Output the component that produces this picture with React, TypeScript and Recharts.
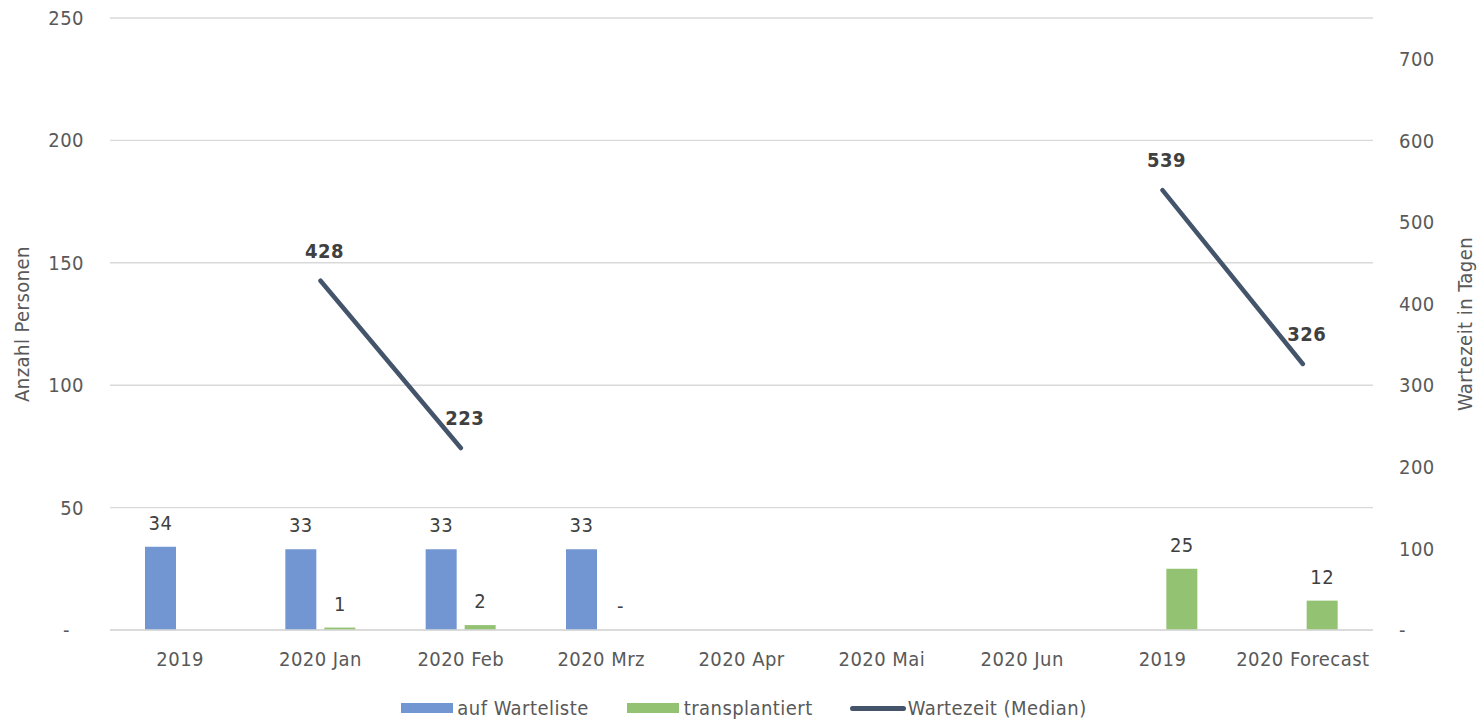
import React from "react";
import {
  ComposedChart,
  Bar,
  Line,
  XAxis,
  YAxis,
  CartesianGrid,
  LabelList,
  Legend,
} from "recharts";

// ── Data ───────────────────────────────────────────────────────────────────
const categories = ["2019", "2020 Jan", "2020 Feb", "2020 Mrz", "2020 Apr", "2020 Mai", "2020 Jun", "2019", "2020 Forecast"];
const aufWarteliste: (number | null)[] = [34, 33, 33, 33, null, null, null, null, null];
const transplantiert: (number | null)[] = [null, 1, 2, 0, null, null, null, 25, 12];
const wartezeit: (number | null)[] = [null, 428, 223, null, null, null, null, 539, 326];

const leftTicks = [0, 50, 100, 150, 200, 250];
const rightTicks = [0, 100, 200, 300, 400, 500, 600, 700];

const FONT = "'DejaVu Sans Condensed', 'Liberation Sans', sans-serif";
const LS = 0.45; // letter spacing, closer to the original Tahoma widths
const BLUE = "#7296d1";
const GREEN = "#93c273";
const NAVY = "#44546a";
const GRID = "#d9d9d9";
const TEXT = "#595959";
const LABEL = "#404040";

const data = categories.map((name, i) => ({
  name,
  warteliste: aufWarteliste[i],
  transplantiert: transplantiert[i],
  wartezeit: wartezeit[i],
}));

// ── Renderers ──────────────────────────────────────────────────────────────

const fmtZero = (v: number) => (v === 0 ? "-" : String(v));

const LeftTick = (props: any) => {
  const { x, y, payload } = props;
  const isZero = payload.value === 0;
  return (
    <text x={isZero ? x - 14 : x} y={y} dy="0.35em" textAnchor="end" fill={TEXT} fontSize={20}
      fontFamily={FONT} letterSpacing={LS}>
      {fmtZero(payload.value)}
    </text>
  );
};

const BarLabel = (props: any) => {
  const { x, y, width, value } = props;
  if (value === null || value === undefined) return null;
  return (
    <text x={x + width / 2} y={y - 17} textAnchor="middle" fill={LABEL} fontSize={20}
      fontFamily={FONT} letterSpacing={LS}>
      {fmtZero(value)}
    </text>
  );
};

const LineLabel = (props: any) => {
  const { x, y, value } = props;
  if (value === null || value === undefined) return null;
  return (
    <text x={x + 4} y={y - 23} textAnchor="middle" fill={LABEL} fontSize={20} fontWeight="bold"
      fontFamily={FONT} letterSpacing={LS}>
      {value}
    </text>
  );
};

const AxisTitle = (text: string, dx: number) => (props: any) => {
  const { x, y, height } = props.viewBox;
  const cx = x + dx;
  const cy = y + height / 2;
  return (
    <text x={cx} y={cy} transform={`rotate(-90 ${cx} ${cy})`} textAnchor="middle" dominantBaseline="central"
      fill={TEXT} fontSize={20} fontFamily={FONT} letterSpacing={LS}>
      {text}
    </text>
  );
};

const LegendContent = () => (
  <div style={{ height: 40, display: "flex", justifyContent: "center", alignItems: "flex-end",
    fontFamily: FONT, fontSize: 20, letterSpacing: LS, color: TEXT, paddingLeft: 8, boxSizing: "border-box" }}>
    <div style={{ display: "flex", alignItems: "center", height: 22, marginBottom: -4 }}>
      <span style={{ width: 52, height: 10, background: BLUE, marginRight: 4 }} />
      <span style={{ marginRight: 38 }}>auf Warteliste</span>
      <span style={{ width: 52, height: 10, background: GREEN, marginRight: 5 }} />
      <span style={{ marginRight: 37 }}>transplantiert</span>
      <span style={{ width: 56, height: 5, background: NAVY, borderRadius: 3, marginRight: 2 }} />
      <span>Wartezeit (Median)</span>
    </div>
  </div>
);

// ── Chart ──────────────────────────────────────────────────────────────────

export default function App() {
  return (
    <div style={{ position: "absolute", left: 0, top: 0, width: 1480, height: 721, background: "#fff" }}>
      <ComposedChart width={1480} height={721} data={data}
        margin={{ top: 18, right: 0, bottom: 6, left: 0 }} barGap={8} barSize={31}>
        <CartesianGrid yAxisId="left" vertical={false} stroke={GRID} strokeWidth={1.4} />
        <XAxis dataKey="name" height={45} tickLine={false} tickSize={0} tickMargin={22}
          axisLine={{ stroke: GRID, strokeWidth: 1.4 }}
          tick={{ fill: TEXT, fontSize: 20, fontFamily: FONT, letterSpacing: LS }} interval={0} />
        <YAxis yAxisId="left" orientation="left" width={110} domain={[0, 250]} ticks={leftTicks}
          axisLine={false} tickLine={false} tickSize={0} tickMargin={26} tick={<LeftTick />}
          label={{ content: AxisTitle("Anzahl Personen", 22) }} />
        <YAxis yAxisId="right" orientation="right" width={107} domain={[0, 750]} ticks={rightTicks}
          axisLine={false} tickLine={false} tickSize={0} tickMargin={26} tickFormatter={fmtZero}
          tick={{ fill: TEXT, fontSize: 20, fontFamily: FONT, letterSpacing: LS }}
          label={{ content: AxisTitle("Wartezeit in Tagen", 92) }} />
        <Legend verticalAlign="bottom" content={<LegendContent />} />

        <Bar yAxisId="left" dataKey="warteliste" name="auf Warteliste" fill={BLUE} isAnimationActive={false}>
          <LabelList dataKey="warteliste" content={<BarLabel />} />
        </Bar>
        <Bar yAxisId="left" dataKey="transplantiert" name="transplantiert" fill={GREEN}
          minPointSize={0.01} isAnimationActive={false}>
          <LabelList dataKey="transplantiert" content={<BarLabel />} />
        </Bar>
        <Line yAxisId="right" dataKey="wartezeit" name="Wartezeit (Median)" stroke={NAVY} strokeWidth={4.5}
          strokeLinecap="round" dot={false} activeDot={false} connectNulls={false} isAnimationActive={false}>
          <LabelList dataKey="wartezeit" content={<LineLabel />} />
        </Line>
      </ComposedChart>
    </div>
  );
}
